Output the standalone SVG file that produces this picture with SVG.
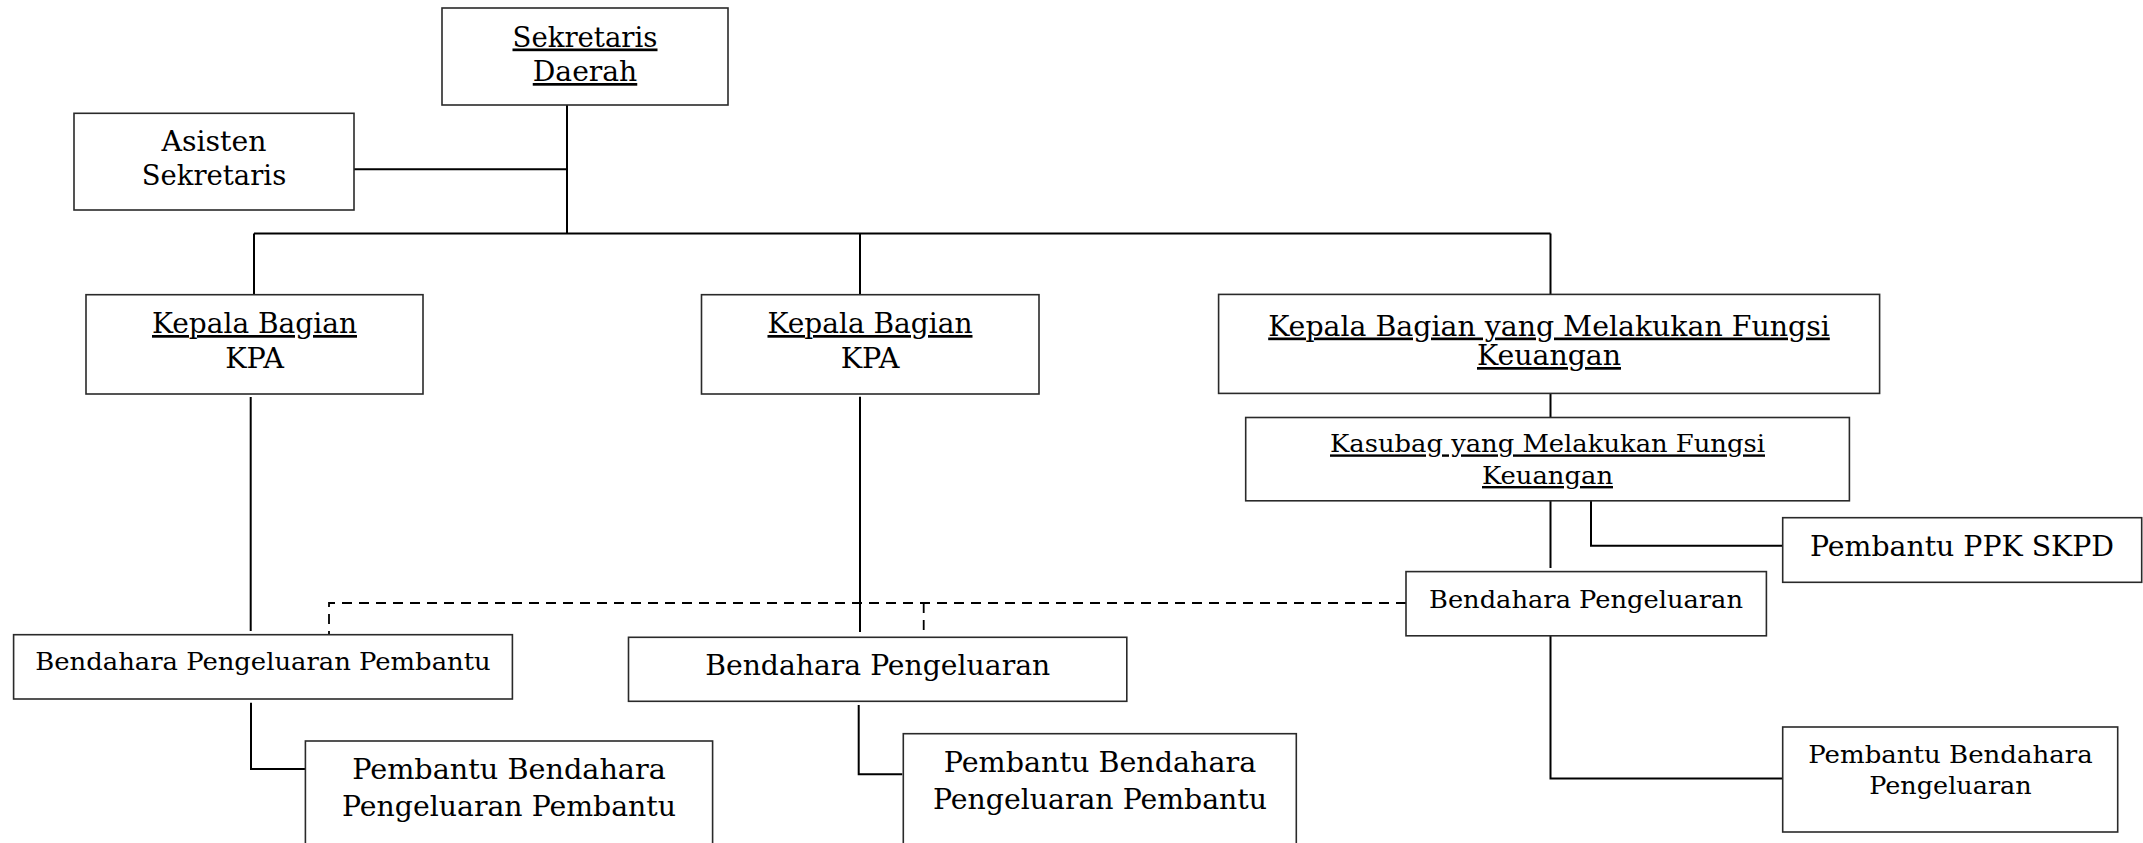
<svg xmlns="http://www.w3.org/2000/svg" width="2143" height="843" viewBox="0 0 2143 843">
<style>
rect.box{fill:#fff;stroke:#2a2a2a;stroke-width:1.6}
text{font-family:"DejaVu Serif","Liberation Serif",serif;fill:#000;text-anchor:middle}
.big{font-size:27px}
.mid{font-size:25px}
.sm{font-size:24px}
.u{text-decoration:underline}
#connectors path{fill:none;stroke:#000;stroke-width:2}
#connectors path.dash{stroke-width:1.8;stroke-dasharray:10 7}
</style>
<rect width="2143" height="843" fill="#fff"/>
<g id="connectors">
<path d="M567 105 V233.5"/>
<path d="M354 169.3 H567"/>
<path d="M254 233.5 H1550.5"/>
<path d="M254 233.5 V294.7"/>
<path d="M860 233.5 V294.7"/>
<path d="M1550.5 233.5 V294.4"/>
<path d="M250.7 397 V631"/>
<path d="M860 396.7 V632"/>
<path d="M1550.5 393.5 V417.5"/>
<path d="M1550.5 500.8 V568"/>
<path d="M1591 500.8 V545.7 H1782.7"/>
<path d="M1550.5 635.8 V778.4 H1782.7"/>
<path d="M251 702.7 V769 H305.4"/>
<path d="M858.7 705 V774.3 H902.3"/>
<path class="dash" d="M1406 603 H329 V635"/>
<path class="dash" d="M923.7 603 V636"/>
</g>
<g id="sekda">
<rect class="box" x="442" y="8" width="286" height="97"/>
<text class="big u" x="585" y="46.5" textLength="145" lengthAdjust="spacingAndGlyphs">Sekretaris</text>
<text class="big u" x="585" y="81" textLength="104.5" lengthAdjust="spacingAndGlyphs">Daerah</text>
</g>
<g id="asisten">
<rect class="box" x="74" y="113.3" width="280" height="96.7"/>
<text class="big" x="214" y="150.7" textLength="105" lengthAdjust="spacingAndGlyphs">Asisten</text>
<text class="big" x="214" y="185" textLength="144.5" lengthAdjust="spacingAndGlyphs">Sekretaris</text>
</g>
<g id="kpa1">
<rect class="box" x="86" y="294.7" width="337" height="99.3"/>
<text class="big u" x="254.5" y="333" textLength="205" lengthAdjust="spacingAndGlyphs">Kepala Bagian</text>
<text class="big" x="254.5" y="367.7" textLength="58.7" lengthAdjust="spacingAndGlyphs">KPA</text>
</g>
<g id="kpa2">
<rect class="box" x="701.5" y="294.7" width="337.5" height="99.3"/>
<text class="big u" x="870" y="333" textLength="205" lengthAdjust="spacingAndGlyphs">Kepala Bagian</text>
<text class="big" x="870" y="367.7" textLength="58.7" lengthAdjust="spacingAndGlyphs">KPA</text>
</g>
<g id="kabag-keu">
<rect class="box" x="1218.6" y="294.4" width="661" height="99"/>
<text class="big u" x="1549" y="335.5" textLength="561.6" lengthAdjust="spacingAndGlyphs">Kepala Bagian yang Melakukan Fungsi</text>
<text class="big u" x="1549" y="365" textLength="144" lengthAdjust="spacingAndGlyphs">Keuangan</text>
</g>
<g id="kasubag">
<rect class="box" x="1245.7" y="417.5" width="603.7" height="83.3"/>
<text class="sm u" x="1547.5" y="452.4" textLength="435" lengthAdjust="spacingAndGlyphs">Kasubag yang Melakukan Fungsi</text>
<text class="sm u" x="1547.5" y="484" textLength="131" lengthAdjust="spacingAndGlyphs">Keuangan</text>
</g>
<g id="ppk">
<rect class="box" x="1782.7" y="517.7" width="359" height="64.6"/>
<text class="big" x="1962" y="555.8" textLength="304" lengthAdjust="spacingAndGlyphs">Pembantu PPK SKPD</text>
</g>
<g id="bp-right">
<rect class="box" x="1406" y="571.6" width="360.4" height="64.2"/>
<text class="sm" x="1586" y="607.5" textLength="314" lengthAdjust="spacingAndGlyphs">Bendahara Pengeluaran</text>
</g>
<g id="pbp-right">
<rect class="box" x="1782.7" y="727" width="335" height="105"/>
<text class="sm" x="1950.5" y="763" textLength="284.5" lengthAdjust="spacingAndGlyphs">Pembantu Bendahara</text>
<text class="sm" x="1950.5" y="794" textLength="162.4" lengthAdjust="spacingAndGlyphs">Pengeluaran</text>
</g>
<g id="bpp-left">
<rect class="box" x="13.6" y="634.7" width="498.8" height="64.3"/>
<text class="sm" x="263" y="670" textLength="455.5" lengthAdjust="spacingAndGlyphs">Bendahara Pengeluaran Pembantu</text>
</g>
<g id="pbpp-left">
<rect class="box" x="305.4" y="741" width="407.2" height="130"/>
<text class="big" x="509" y="779.3" textLength="313.6" lengthAdjust="spacingAndGlyphs">Pembantu Bendahara</text>
<text class="big" x="509" y="816" textLength="334" lengthAdjust="spacingAndGlyphs">Pengeluaran Pembantu</text>
</g>
<g id="bp-mid">
<rect class="box" x="628.5" y="637.3" width="498.3" height="64"/>
<text class="big" x="877.7" y="675" textLength="345" lengthAdjust="spacingAndGlyphs">Bendahara Pengeluaran</text>
</g>
<g id="pbpp-mid">
<rect class="box" x="903.3" y="733.7" width="393" height="140"/>
<text class="big" x="1100" y="771.7" textLength="312.6" lengthAdjust="spacingAndGlyphs">Pembantu Bendahara</text>
<text class="big" x="1100" y="809.3" textLength="334" lengthAdjust="spacingAndGlyphs">Pengeluaran Pembantu</text>
</g>
</svg>
